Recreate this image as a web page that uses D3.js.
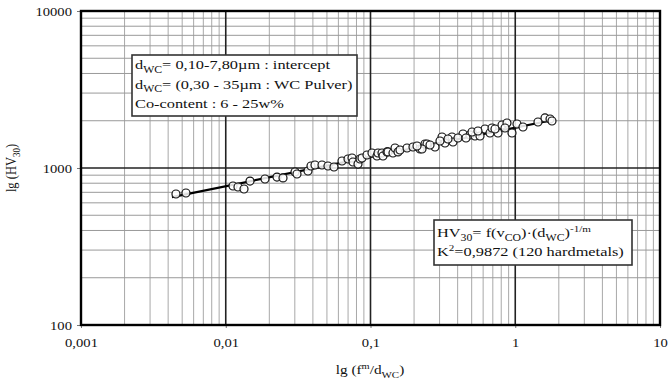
<!DOCTYPE html>
<html><head><meta charset="utf-8">
<script src="https://cdn.jsdelivr.net/npm/d3@7"></script>
<style>html,body{margin:0;padding:0;background:#fff;} svg{display:block;}</style>
</head><body>
<svg id="c" width="669" height="382"></svg>
<script>
// ---- data ----
const xDomain = [0.001, 10];
const yDomain = [100, 10000];
const xTickValues = [0.001, 0.01, 0.1, 1, 10];
const xTickLabels = ["0,001", "0,01", "0,1", "1", "10"];
const yTickValues = [100, 1000, 10000];
const yTickLabels = ["100", "1000", "10000"];
// measured hardmetals: x = f^m/d_WC, y = HV30
const pointsX = [0.00453,0.00531,0.01122,0.01215,0.01337,0.01471,0.01867,0.0226,0.02486,0.03009,0.03106,0.037,0.03881,0.04136,0.04622,0.05085,0.05594,0.06355,0.06993,0.07452,0.07568,0.08196,0.08463,0.08736,0.09458,0.1024,0.1109,0.1127,0.1201,0.122,0.13,0.1321,0.143,0.1477,0.1549,0.1599,0.1788,0.1966,0.2198,0.2379,0.2457,0.2269,0.279,0.3119,0.3271,0.3656,0.3715,0.4355,0.4869,0.5272,0.5709,0.618,0.6692,0.691,0.76,0.81,0.877,0.9495,1.028,1.131,1.436,1.605,1.739,1.794,0.2096,0.2577,0.302,0.343,0.4022,0.4568,0.5027,0.5528,0.7247,0.8495];
const pointsY = [683,693,768,757,735,826,851,876,864,943,916,957,1030,1045,1045,1030,1015,1108,1141,1158,1092,1060,1141,1158,1210,1246,1192,1246,1246,1192,1265,1265,1246,1341,1265,1302,1341,1361,1321,1422,1422,1321,1361,1576,1443,1576,1464,1647,1623,1599,1599,1772,1671,1798,1671,1879,1935,1671,1907,1824,1963,2083,2052,1993,1381,1401,1486,1530,1553,1553,1696,1721,1772,1798];
// regression line end points
const fitX = [0.00425, 1.82];
const fitY = [653, 2022];

// ---- layout ----
const L = 81, R = 660, T = 11, B = 325;
const SX = 1.22; // horizontal glyph stretch of the original
const serif = "'Liberation Serif','Times New Roman',serif";
const svg = d3.select("#c");
const x = d3.scaleLog().domain(xDomain).range([L, R]);
const y = d3.scaleLog().domain(yDomain).range([B, T]);

function minorTicks(dom) {
  const out = [];
  for (let p = Math.log10(dom[0]); p < Math.log10(dom[1]); p++) {
    for (let k = 2; k <= 9; k++) out.push(k * Math.pow(10, p));
  }
  return out;
}
const g = svg.append("g");
// minor grid
g.selectAll(".vmin").data(minorTicks(xDomain)).join("line")
  .attr("x1", d => x(d)).attr("x2", d => x(d)).attr("y1", T).attr("y2", B)
  .attr("stroke", "#a8a8a8").attr("stroke-width", 1);
g.selectAll(".hmin").data(minorTicks(yDomain)).join("line")
  .attr("y1", d => y(d)).attr("y2", d => y(d)).attr("x1", L).attr("x2", R)
  .attr("stroke", "#9a9a9a").attr("stroke-width", 1);
// major grid
g.selectAll(".vmaj").data(xTickValues.slice(1, -1)).join("line")
  .attr("x1", d => x(d)).attr("x2", d => x(d)).attr("y1", T).attr("y2", B)
  .attr("stroke", "#222").attr("stroke-width", 1.6);
g.selectAll(".hmaj").data(yTickValues.slice(1, -1)).join("line")
  .attr("y1", d => y(d)).attr("y2", d => y(d)).attr("x1", L).attr("x2", R)
  .attr("stroke", "#222").attr("stroke-width", 1.6);

// axes via d3
const xAxis = d3.axisBottom(x).tickValues(xTickValues).tickSize(3).tickFormat((d, i) => xTickLabels[i]);
const yAxis = d3.axisLeft(y).tickValues(yTickValues).tickSize(4).tickFormat((d, i) => yTickLabels[i]);
const gx = svg.append("g").attr("transform", `translate(0,${B})`).call(xAxis);
const gy = svg.append("g").attr("transform", `translate(${L},0)`).call(yAxis);
[gx, gy].forEach(a => {
  a.select(".domain").remove();
  a.selectAll(".tick line").attr("stroke", "#777");
  a.selectAll(".tick text").attr("font-family", serif).attr("font-size", 12).attr("fill", "#111");
});
gx.selectAll(".tick text").attr("y", 0).attr("dy", 0)
  .attr("transform", `translate(0,22) scale(${SX},1)`);
gy.selectAll(".tick text").attr("x", 0).attr("dy", 0)
  .attr("transform", `translate(-9,4) scale(${SX},1)`);

// frame
svg.append("rect").attr("x", L).attr("y", T).attr("width", R - L).attr("height", B - T)
  .attr("fill", "none").attr("stroke", "#000").attr("stroke-width", 2.4);

// regression line
svg.append("line")
  .attr("x1", x(fitX[0])).attr("y1", y(fitY[0]))
  .attr("x2", x(fitX[1])).attr("y2", y(fitY[1]))
  .attr("stroke", "#000").attr("stroke-width", 2.2);

// points
svg.append("g").selectAll("circle").data(pointsX.map((v, i) => [v, pointsY[i]])).join("circle")
  .attr("cx", d => x(d[0])).attr("cy", d => y(d[1])).attr("r", 4)
  .attr("fill", "#fff").attr("fill-opacity", 0.85).attr("stroke", "#111").attr("stroke-width", 1.2);

// text helper: parts = [[text, "n"|"sub"|"sup"], ...]
function rich(parent, px, py, parts, size, anchor) {
  const t = parent.append("text")
    .attr("transform", `translate(${px},${py}) scale(${SX},1)`)
    .attr("font-family", serif).attr("font-size", size).attr("fill", "#111")
    .attr("text-anchor", anchor || "start");
  let cur = 0;
  parts.forEach(([s, k]) => {
    const sp = t.append("tspan").text(s);
    const want = k === "sub" ? size * 0.28 : k === "sup" ? -size * 0.38 : 0;
    if (k === "sub") sp.attr("font-size", size * 0.72);
    if (k === "sup") sp.attr("font-size", size * 0.68);
    sp.attr("dy", want - cur);
    cur = want;
  });
  return t;
}

// box 1
const b1 = svg.append("g");
b1.append("rect").attr("x", 132).attr("y", 55).attr("width", 225).attr("height", 61)
  .attr("fill", "#fff").attr("stroke", "#333").attr("stroke-width", 1.6);
rich(b1, 135, 69, [["d", "n"], ["WC", "sub"], ["= 0,10-7,80µm : intercept", "n"]], 13.4);
rich(b1, 135, 88.5, [["d", "n"], ["WC", "sub"], ["= (0,30 - 35µm : WC Pulver)", "n"]], 13.4);
rich(b1, 135, 107.5, [["Co-content : 6 - 25w%", "n"]], 13.4);

// box 2
const b2 = svg.append("g");
b2.append("rect").attr("x", 434).attr("y", 220).attr("width", 198).attr("height", 45)
  .attr("fill", "#fff").attr("stroke", "#333").attr("stroke-width", 1.6);
rich(b2, 437, 237, [["HV", "n"], ["30", "sub"], ["= f(v", "n"], ["CO", "sub"], [")·(d", "n"], ["WC", "sub"], [")", "n"], ["-1/m", "sup"]], 13.4);
rich(b2, 437, 256, [["K", "n"], ["2", "sup"], ["=0,9872 (120 hardmetals)", "n"]], 13.4);

// axis titles
rich(svg, 370, 374, [["lg (f", "n"], ["m", "sup"], ["/d", "n"], ["WC", "sub"], [")", "n"]], 12.5, "middle");
svg.append("text")
  .attr("transform", `translate(16,168) rotate(-90) scale(1,${SX})`)
  .attr("font-family", serif).attr("font-size", 12.5).attr("fill", "#111").attr("text-anchor", "middle")
  .call(t => {
    t.append("tspan").text("lg (HV");
    t.append("tspan").text("30").attr("font-size", 9).attr("dy", 3.5);
    t.append("tspan").text(")").attr("dy", -3.5);
  });
</script>
</body></html>
